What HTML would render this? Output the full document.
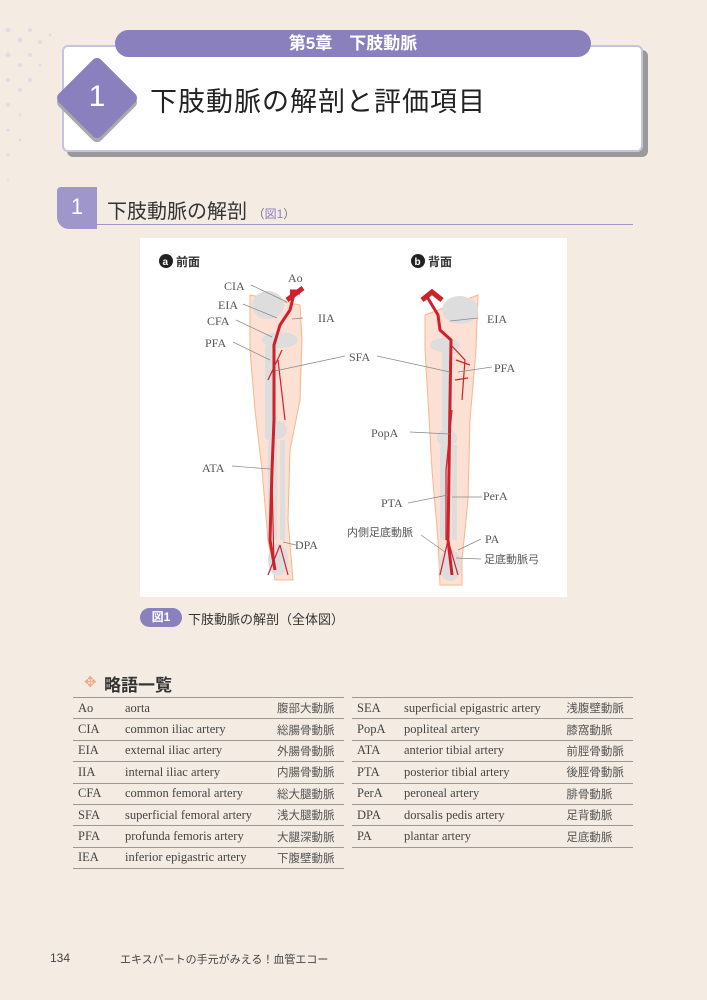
<!DOCTYPE html>
<html><head><meta charset="utf-8"><style>
*{margin:0;padding:0;box-sizing:border-box}
body{width:707px;height:1000px;background:#f4ece3;position:relative;overflow:hidden;font-family:"Liberation Sans","Noto Sans CJK JP",sans-serif;color:#333}
.abs{position:absolute}
.pill{left:115px;top:30px;width:476px;height:27px;background:#8a80be;border-radius:14px;color:#fff;font-weight:bold;font-size:17px;text-align:center;line-height:27px;z-index:3}
.box{left:62px;top:45px;width:581px;height:107px;background:#fff;border:2px solid #c8c2e2;border-radius:6px;box-shadow:5px 5px 0 #9a9a9a;z-index:2}
.dia{left:67px;top:68px;width:60px;height:60px;background:#8a80be;transform:rotate(45deg);border-radius:6px;z-index:4;box-shadow:3px 3px 0 #aaa}
.title{left:150px;top:80px;font-size:27px;color:#222;z-index:5;letter-spacing:1px}
table{border-collapse:collapse;font-family:"Liberation Serif","Noto Serif CJK SC",serif;font-size:12.5px;color:#444}
td{height:21.4px;border-bottom:1px solid #999;padding:0 0 0 5px;white-space:nowrap}
table{border-top:1px solid #999}
td.j{font-family:"Liberation Sans","Noto Sans CJK JP",sans-serif;font-size:11.5px;color:#555}
.lbl{font-family:"Liberation Serif",serif;font-size:12px;fill:#555}
.jl{font-family:"Noto Sans CJK JP",sans-serif;font-size:11px;fill:#555}
</style></head><body>
<svg class="abs" style="left:0;top:0" width="120" height="200">
<g fill="#e8d8e4">
<circle cx="8" cy="30" r="2.5"/><circle cx="20" cy="40" r="2.5"/><circle cx="8" cy="55" r="2.5"/><circle cx="30" cy="30" r="2"/><circle cx="20" cy="65" r="2"/><circle cx="8" cy="80" r="2"/><circle cx="40" cy="42" r="2"/><circle cx="30" cy="55" r="2"/><circle cx="8" cy="105" r="2"/><circle cx="20" cy="90" r="2"/><circle cx="8" cy="130" r="1.5"/><circle cx="20" cy="115" r="1.5"/><circle cx="8" cy="155" r="1.5"/><circle cx="20" cy="140" r="1.5"/><circle cx="8" cy="180" r="1"/><circle cx="30" cy="80" r="2"/><circle cx="40" cy="65" r="1.5"/><circle cx="50" cy="35" r="1.5"/>
</g></svg>
<div class="abs pill">第5章　下肢動脈</div>
<div class="abs box"></div>
<div class="abs dia"></div>
<div class="abs" style="left:67px;top:80px;width:60px;text-align:center;color:#fff;font-size:30px;z-index:5">1</div>
<div class="abs title">下肢動脈の解剖と評価項目</div>

<div class="abs" style="left:57px;top:187px;width:40px;height:42px;background:#9f96cc;border-radius:4px 0 0 12px;color:#fff;font-size:22px;text-align:center;line-height:40px">1</div>
<div class="abs" style="left:97px;top:224px;width:536px;height:1px;background:#9f96cc"></div>
<div class="abs" style="left:107px;top:195px;font-size:20px;color:#333">下肢動脈の解剖 <span style="font-size:12px;color:#777">（<span style="color:#8a80be">図1</span>）</span></div>

<svg class="abs" style="left:140px;top:238px" width="427" height="359" viewBox="140 238 427 359">
<rect x="140" y="238" width="427" height="359" fill="#fff"/>
<circle cx="166" cy="261" r="7" fill="#222"/><text x="162.5" y="265" font-size="10" fill="#fff" font-weight="bold" font-family="Liberation Sans">a</text>
<text x="176" y="266" font-size="12" font-weight="bold" font-family="Noto Sans CJK JP" fill="#333">前面</text>
<circle cx="418" cy="261" r="7" fill="#222"/><text x="414.5" y="265" font-size="10" fill="#fff" font-weight="bold" font-family="Liberation Sans">b</text>
<text x="428" y="266" font-size="12" font-weight="bold" font-family="Noto Sans CJK JP" fill="#333">背面</text>
<!-- leg a -->
<path d="M250 295 L300 305 L302 340 L300 400 L290 450 L288 520 L293 580 L275 580 L268 540 L262 470 L255 410 L250 350 Z" fill="#fbe0d3" stroke="#f5b78a" stroke-width="1"/>
<g fill="#ddd"><ellipse cx="268" cy="305" rx="16" ry="14"/><ellipse cx="280" cy="340" rx="18" ry="8"/><rect x="265" y="345" width="10" height="95" rx="4"/><ellipse cx="277" cy="430" rx="10" ry="9"/><rect x="268" y="440" width="9" height="100" rx="3"/><rect x="280" y="440" width="5" height="100"/><ellipse cx="278" cy="560" rx="10" ry="16"/></g>
<path d="M295 290 L290 310 L280 325 L274 345 L274 420 L272 470 L270 540 L275 570" fill="none" stroke="#d0202a" stroke-width="3"/>
<path d="M290 292 L300 292 M287 300 L303 288" stroke="#d0202a" stroke-width="5"/>
<path d="M282 350 L268 380 M278 360 L285 420 M272 480 L274 565 M280 545 L268 575 M280 545 L288 575" fill="none" stroke="#d0202a" stroke-width="1.2"/>
<!-- leg b -->
<path d="M425 315 L478 295 L476 350 L470 420 L468 500 L462 560 L462 585 L440 585 L438 540 L432 470 L428 400 L425 350 Z" fill="#fbe0d3" stroke="#f5b78a" stroke-width="1"/>
<g fill="#ddd"><ellipse cx="460" cy="310" rx="18" ry="14"/><ellipse cx="445" cy="345" rx="15" ry="7"/><rect x="442" y="345" width="10" height="90" rx="4"/><ellipse cx="447" cy="438" rx="10" ry="9"/><rect x="440" y="445" width="9" height="95" rx="3"/><rect x="452" y="445" width="5" height="95"/><ellipse cx="450" cy="565" rx="11" ry="16"/></g>
<path d="M426 295 L432 305 L438 315 L440 330 L451 340 L450 400 L449 470 L448 540 L452 575" fill="none" stroke="#d0202a" stroke-width="3"/>
<path d="M422 300 L432 292 L442 300" fill="none" stroke="#d0202a" stroke-width="5"/>
<path d="M451 345 L465 360 L462 400 M456 360 L470 365 M455 380 L468 378 M452 410 L446 470 L446 540 M448 540 L440 575 M448 540 L458 575" fill="none" stroke="#d0202a" stroke-width="1.2"/>
<g stroke="#888" stroke-width="0.7" fill="none">
<path d="M251 285 L287 302 M243 304 L277 318 M236 320 L272 337 M233 342 L270 360 M303 318 L292 319 M345 356 L275 371 M232 466 L270 469 M296 545 L283 542"/>
<path d="M478 318 L450 321 M377 356 L450 372 M492 367 L458 372 M410 432 L450 434 M408 503 L448 495 M482 497 L452 497 M421 535 L445 552 M481 539 L458 550 M481 559 L456 558"/>
</g>
<text class="lbl" x="288" y="282">Ao</text><text class="lbl" x="224" y="290">CIA</text><text class="lbl" x="218" y="309">EIA</text><text class="lbl" x="207" y="325">CFA</text><text class="lbl" x="205" y="347">PFA</text><text class="lbl" x="318" y="322">IIA</text><text class="lbl" x="349" y="361">SFA</text><text class="lbl" x="202" y="472">ATA</text><text class="lbl" x="295" y="549">DPA</text>
<text class="lbl" x="487" y="323">EIA</text><text class="lbl" x="494" y="372">PFA</text><text class="lbl" x="371" y="437">PopA</text><text class="lbl" x="381" y="507">PTA</text><text class="lbl" x="483" y="500">PerA</text><text class="lbl" x="485" y="543">PA</text>
<text class="jl" x="347" y="536">内側足底動脈</text><text class="jl" x="484" y="563">足底動脈弓</text>
</svg>

<div class="abs" style="left:140px;top:608px;width:42px;height:19px;background:#8a80be;border-radius:10px;color:#fff;font-size:12px;text-align:center;line-height:19px;font-weight:bold">図1</div>
<div class="abs" style="left:188px;top:609px;font-size:13px;color:#333">下肢動脈の解剖（全体図）</div>

<div class="abs" style="left:84px;top:673px;color:#f5a57a;font-size:15px">✥</div>
<div class="abs" style="left:104px;top:671px;font-size:17px;font-weight:bold;color:#333">略語一覧</div>

<table class="abs" style="left:73px;top:697px;width:271px">
<tr><td style="width:47px">Ao</td><td>aorta</td><td class="j">腹部大動脈</td></tr>
<tr><td>CIA</td><td>common iliac artery</td><td class="j">総腸骨動脈</td></tr>
<tr><td>EIA</td><td>external iliac artery</td><td class="j">外腸骨動脈</td></tr>
<tr><td>IIA</td><td>internal iliac artery</td><td class="j">内腸骨動脈</td></tr>
<tr><td>CFA</td><td>common femoral artery</td><td class="j">総大腿動脈</td></tr>
<tr><td>SFA</td><td>superficial femoral artery</td><td class="j">浅大腿動脈</td></tr>
<tr><td>PFA</td><td>profunda femoris artery</td><td class="j">大腿深動脈</td></tr>
<tr><td>IEA</td><td>inferior epigastric artery</td><td class="j">下腹壁動脈</td></tr>
</table>
<table class="abs" style="left:352px;top:697px;width:281px">
<tr><td style="width:47px">SEA</td><td>superficial epigastric artery</td><td class="j">浅腹壁動脈</td></tr>
<tr><td>PopA</td><td>popliteal artery</td><td class="j">膝窩動脈</td></tr>
<tr><td>ATA</td><td>anterior tibial artery</td><td class="j">前脛骨動脈</td></tr>
<tr><td>PTA</td><td>posterior tibial artery</td><td class="j">後脛骨動脈</td></tr>
<tr><td>PerA</td><td>peroneal artery</td><td class="j">腓骨動脈</td></tr>
<tr><td>DPA</td><td>dorsalis pedis artery</td><td class="j">足背動脈</td></tr>
<tr><td>PA</td><td>plantar artery</td><td class="j">足底動脈</td></tr>
</table>

<div class="abs" style="left:50px;top:951px;font-size:12px;color:#444">134</div>
<div class="abs" style="left:120px;top:951px;font-size:11px;color:#444">エキスパートの手元がみえる！血管エコー</div>
</body></html>
